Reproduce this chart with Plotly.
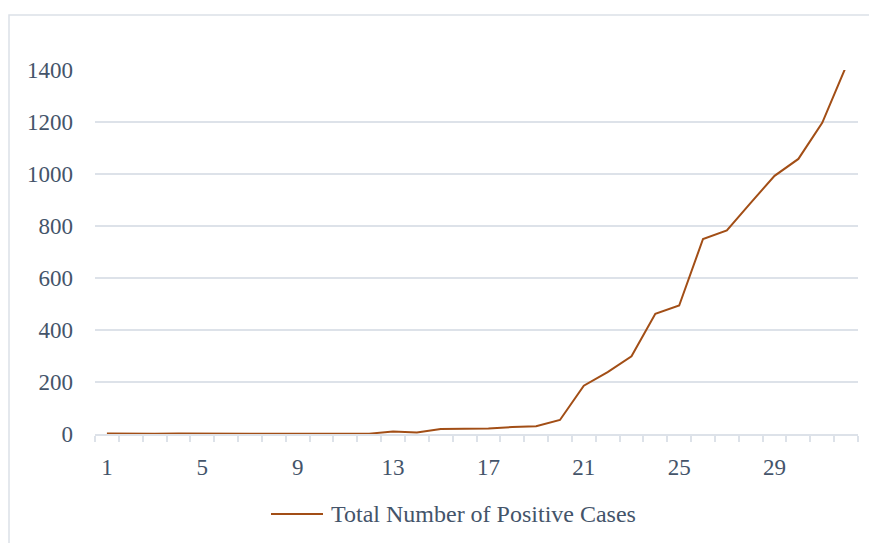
import plotly.graph_objects as go

days = list(range(1, 33))
total_cases = [2, 1, 1, 2, 1, 1, 1, 1, 1, 1, 1, 1, 10, 6, 19, 20, 21, 27, 30, 54,
               186, 238, 299, 462, 494, 750, 783, 889, 993, 1058, 1197, 1414]
series_name = "Total Number of Positive Cases"
y_ticks = [0, 200, 400, 600, 800, 1000, 1200, 1400]
x_ticks = [1, 5, 9, 13, 17, 21, 25, 29]

OFF = 8  # browser body margin
W, H = 877 - OFF, 543 - OFF
L, R, T, B = 95 - OFF, 19, 70 - OFF, 109
pw, ph = W - L - R, H - T - B
txt = "#44546A"
grid = "#DDE2E9"
line_color = "#A24E16"
font = "Liberation Serif, Times New Roman, serif"

fig = go.Figure()
fig.add_trace(go.Scatter(x=days, y=total_cases, mode="lines", name=series_name,
                         line=dict(color=line_color, width=2), cliponaxis=False,
                         showlegend=False))

def px_x(p):
    return (p - OFF - L) / pw

def px_y(p):
    return (H - B - (p - OFF)) / ph

fig.add_shape(type="rect", xref="paper", yref="paper",
              x0=px_x(9), x1=px_x(890), y0=px_y(550), y1=px_y(15),
              line=dict(color="#DCE1E8", width=1.5), fillcolor="rgba(0,0,0,0)", layer="below")

# legend (drawn manually to match line sample length)
fig.add_shape(type="line", xref="paper", yref="paper",
              x0=px_x(271), x1=px_x(323), y0=px_y(514), y1=px_y(514),
              line=dict(color=line_color, width=2))
fig.add_annotation(xref="paper", yref="paper", x=px_x(329), y=px_y(514),
                   xanchor="left", yanchor="middle", showarrow=False,
                   text=series_name, font=dict(family=font, size=24, color=txt))

fig.update_layout(
    width=W, height=H,
    margin=dict(l=L, r=R, t=T, b=B, autoexpand=False),
    paper_bgcolor="white", plot_bgcolor="white",
    font=dict(family=font, size=23, color=txt),
    showlegend=False,
    xaxis=dict(range=[0.5, 32.5], tickmode="array", tickvals=x_ticks, ticks="",
               showgrid=False, showline=True, linecolor=grid, linewidth=1.5,
               zeroline=False, ticklabelstandoff=12, automargin=False,
               minor=dict(tick0=0.5, dtick=1, ticks="outside", ticklen=6,
                          tickcolor=grid, tickwidth=1.5, showgrid=False)),
    yaxis=dict(range=[0, 1400], tickmode="array", tickvals=y_ticks, showgrid=True,
               gridcolor=grid, gridwidth=1.5, zeroline=False, showline=False,
               ticks="", ticklabelstandoff=21, automargin=False),
)

fig.write_html("out.html")
